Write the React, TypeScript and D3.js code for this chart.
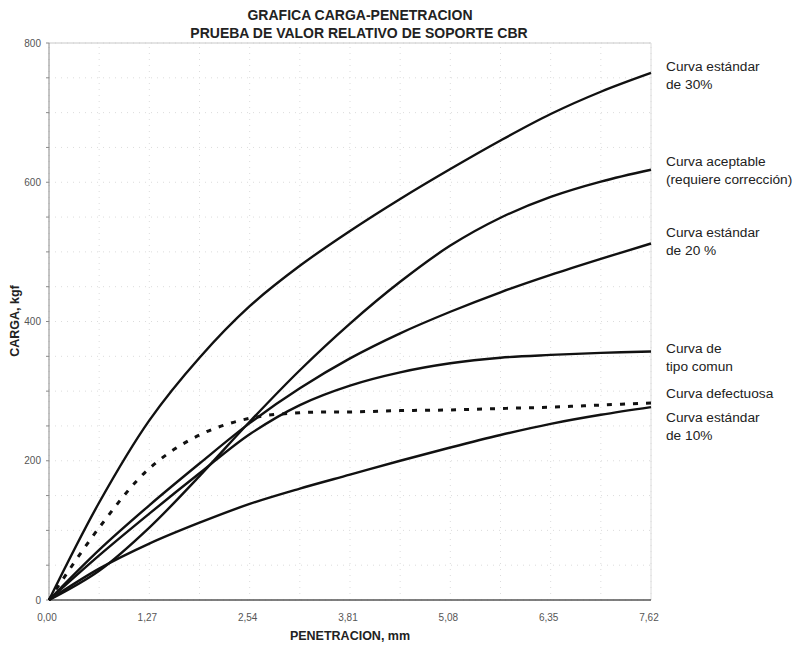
import React from "react";
import * as d3 from "d3";

const penetracion = [0, 0.635, 1.27, 1.905, 2.54, 3.175, 3.81, 4.445, 5.08, 5.715, 6.35, 6.985, 7.62];
const curva30 = [0, 140, 258, 348, 422, 480, 530, 576, 619, 660, 698, 730, 757];
const curvaAceptable = [0, 42, 104, 178, 256, 330, 397, 457, 509, 549, 579, 601, 618];
const curva20 = [0, 72, 136, 196, 254, 304, 347, 383, 414, 442, 467, 490, 512];
const curvaComun = [0, 64, 124, 182, 238, 280, 308, 327, 340, 348, 352, 355, 357];
const curvaDefectuosa = [0, 104, 189, 237, 261, 269, 270, 272, 273, 275, 277, 280, 283];
const curva10 = [0, 45, 81, 111, 138, 160, 180, 200, 219, 237, 253, 266, 277];

const xTicks = [0, 1.27, 2.54, 3.81, 5.08, 6.35, 7.62];
const xTickLabels = ["0,00", "1,27", "2,54", "3,81", "5,08", "6,35", "7,62"];
const yTicks = [0, 200, 400, 600, 800];
const yGrid = d3.range(0, 801, 50);
const xGrid = penetracion;

const labels = [
  { lines: ["Curva estándar", "de 30%"], y: 71 },
  { lines: ["Curva aceptable", "(requiere corrección)"], y: 166 },
  { lines: ["Curva estándar", "de 20 %"], y: 237 },
  { lines: ["Curva de", "tipo comun"], y: 353 },
  { lines: ["Curva defectuosa"], y: 398 },
  { lines: ["Curva estándar", "de 10%"], y: 422 },
];

export default function App() {
  const W = 796, H = 646;
  const x = d3.scaleLinear().domain([0, 7.62]).range([49, 651]);
  const y = d3.scaleLinear().domain([0, 800]).range([600, 43]);
  const line = d3
    .line<number>()
    .x((_, i) => x(penetracion[i]))
    .y((d) => y(d))
    .curve(d3.curveCatmullRom.alpha(0.5));

  const solid = [curva30, curvaAceptable, curva20, curvaComun, curva10];
  const font = "Liberation Sans, Arial, sans-serif";

  return (
    <svg width={W} height={H} style={{ position: "absolute", left: 0, top: 0, background: "#fff" }} fontFamily={font}>
      <rect x={0} y={0} width={W} height={H} fill="#fff" />
      {yGrid.map((v) => (
        <line key={"gy" + v} x1={x(0)} x2={x(7.62)} y1={y(v)} y2={y(v)} stroke="#dcdcdc" strokeWidth={1} strokeDasharray="1 5" />
      ))}
      {xGrid.map((v) => (
        <line key={"gx" + v} x1={x(v)} x2={x(v)} y1={y(0)} y2={y(800)} stroke="#dcdcdc" strokeWidth={1} strokeDasharray="1 5" />
      ))}
      <line x1={x(0)} x2={x(7.62)} y1={y(800)} y2={y(800)} stroke="#c8c8c8" strokeWidth={1} />
      <line x1={x(7.62)} x2={x(7.62)} y1={y(800)} y2={y(0)} stroke="#dcdcdc" strokeWidth={1} />
      <line x1={x(0)} x2={x(0)} y1={y(800)} y2={y(0)} stroke="#8a8a8a" strokeWidth={1} />
      <line x1={x(0)} x2={x(7.62)} y1={y(0)} y2={y(0)} stroke="#555" strokeWidth={1.5} />
      {yGrid.map((v) => (
        <line key={"ty" + v} x1={x(0) - 3} x2={x(0)} y1={y(v)} y2={y(v)} stroke="#8a8a8a" strokeWidth={1} />
      ))}
      {solid.map((s, i) => (
        <path key={"c" + i} d={line(s) || ""} fill="none" stroke="#111" strokeWidth={2.4} />
      ))}
      <path d={line(curvaDefectuosa) || ""} fill="none" stroke="#111" strokeWidth={3} strokeDasharray="5 8" />
      {yTicks.map((v) => (
        <text key={"yl" + v} x={41} y={y(v)} dy="0.35em" textAnchor="end" fontSize={10} fill="#555">
          {v}
        </text>
      ))}
      {xTicks.map((v, i) => (
        <text key={"xl" + v} x={x(v) - 2} y={621} textAnchor="middle" fontSize={10} fill="#555">
          {xTickLabels[i]}
        </text>
      ))}
      <text x={360} y={20} textAnchor="middle" fontSize={14} fontWeight="bold" fill="#222">
        GRAFICA CARGA-PENETRACION
      </text>
      <text x={359} y={38} textAnchor="middle" fontSize={14} fontWeight="bold" fill="#222">
        PRUEBA DE VALOR RELATIVO DE SOPORTE CBR
      </text>
      <text x={350} y={640} textAnchor="middle" fontSize={12.5} fontWeight="bold" fill="#222">
        PENETRACION, mm
      </text>
      <text transform="translate(19,321) rotate(-90)" textAnchor="middle" fontSize={12.5} fontWeight="bold" fill="#222">
        CARGA, kgf
      </text>
      {labels.map((l, i) => (
        <text key={"lb" + i} x={666} y={l.y} fontSize={13.7} fill="#222">
          {l.lines.map((t, j) => (
            <tspan key={j} x={666} dy={j === 0 ? 0 : 18}>
              {t}
            </tspan>
          ))}
        </text>
      ))}
    </svg>
  );
}
